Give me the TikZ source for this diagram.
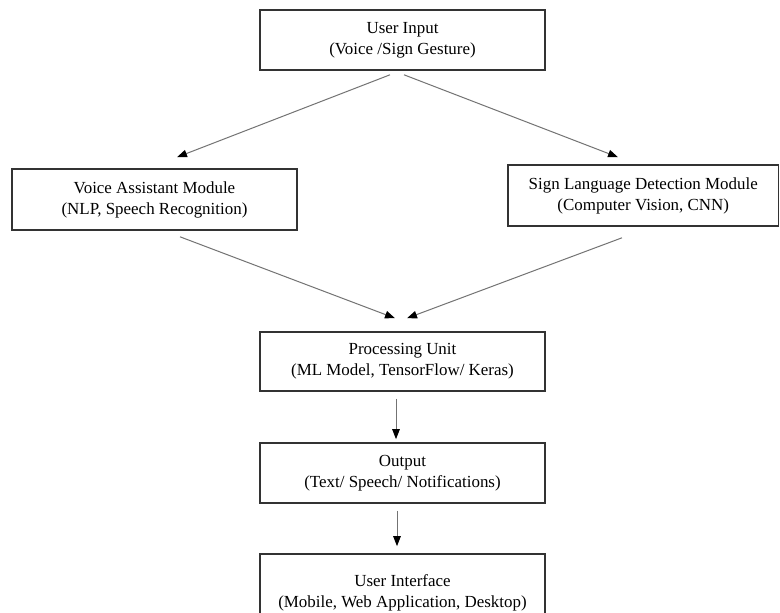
\documentclass[tikz,border=0pt]{standalone}
\usepackage{fontspec}
\setmainfont{Liberation Serif}
\usetikzlibrary{arrows.meta,calc}
\begin{document}
\begin{tikzpicture}[x=1bp,y=-1bp,
  box/.style={draw=black!80,line width=1.6bp,fill=white,minimum width=285bp,minimum height=60bp,inner sep=0pt,align=center,font=\fontsize{17}{21}\selectfont},
  conn/.style={draw=black!55,line width=1bp,-{Triangle[length=10bp,width=7.5bp,color=black,fill=black]}}]
\path[use as bounding box,fill=white] (0,0) rectangle (780,613);
\node[box] (ui) at (402.5,40) {User Input\\(Voice /Sign Gesture)};
\node[box,minimum height=61bp] (voice) at (154.5,199.5) {Voice Assistant Module\\(NLP, Speech Recognition)};
\node[box,minimum height=61bp,minimum width=270.5bp] (sign) at (643.25,195.5) {Sign Language Detection Module\\(Computer Vision, CNN)};
\node[box,minimum height=59bp] (proc) at (402.5,361.5) {Processing Unit\\(ML Model, TensorFlow/ Keras)};
\node[box] (out) at (402.5,473) {Output\\(Text/ Speech/ Notifications)};
\node[box,minimum height=78bp] (uif) at (402.5,593) {User Interface\\(Mobile, Web Application, Desktop)};
\coordinate (a1s) at ($(ui.south)+(-12.5,4)$);
\coordinate (a1e) at ($(voice.north)+(22.5,-11)$);
\coordinate (a2s) at ($(ui.south)+(1.5,4)$);
\coordinate (a2e) at ($(sign.north)+(-25.25,-7)$);
\coordinate (a3s) at ($(voice.south)+(25.5,6)$);
\coordinate (a3e) at ($(proc.north)+(-7.5,-13)$);
\coordinate (a4s) at ($(sign.south)+(-21.25,11)$);
\coordinate (a4e) at ($(proc.north)+(4.5,-13)$);
\coordinate (a5s) at ($(proc.south)+(-6.5,7)$);
\coordinate (a5e) at ($(out.north)+(-6.5,-3)$);
\coordinate (a6s) at ($(out.south)+(-5.5,7)$);
\coordinate (a6e) at ($(uif.north)+(-5.5,-7)$);
\draw[conn] (a1s) -- (a1e);
\draw[conn] (a2s) -- (a2e);
\draw[conn] (a3s) -- (a3e);
\draw[conn] (a4s) -- (a4e);
\draw[conn] (a5s) -- (a5e);
\draw[conn] (a6s) -- (a6e);
\end{tikzpicture}
\end{document}
